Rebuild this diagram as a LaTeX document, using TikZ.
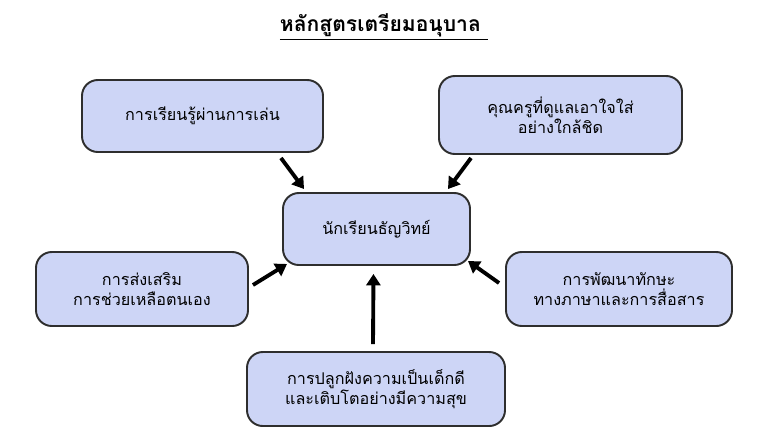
\documentclass[tikz,border=0pt]{standalone}
\usepackage{fontspec}
\usetikzlibrary{arrows.meta,calc}
\newfontfamily\thaifont[Script=Thai]{Loma}
\definecolor{boxfill}{HTML}{CDD5F6}
\definecolor{boxline}{HTML}{2E2E2E}
\tikzset{
  px/.style={x=0.02cm,y=-0.02cm},
  ibox/.style={draw=boxline,line width=1.1pt,fill=boxfill,rounded corners=9pt,
    align=center,font=\thaifont\fontsize{9.2}{11.5}\selectfont,inner sep=0pt},
  arr/.style={line width=2.2pt,-{Triangle[length=6.5pt,width=8pt]}},
}
\begin{document}
\begin{tikzpicture}[px]
\useasboundingbox (0,0) rectangle (768,441);
\node[font=\thaifont\bfseries\fontsize{12}{14}\selectfont] (title) at (384,27)
  {\setlength{\fboxrule}{0pt}\underline{หลักสูตรเตรียมอนุบาล\ }};
\node[ibox,minimum width=241*0.02cm,minimum height=72*0.02cm] (b1) at (202.5,116) {การเรียนรู้ผ่านการเล่น};
\node[ibox,minimum width=243*0.02cm,minimum height=78*0.02cm] (b2) at (560.5,115) {คุณครูที่ดูแลเอาใจใส่\\อย่างใกล้ชิด};
\node[ibox,minimum width=187*0.02cm,minimum height=72*0.02cm] (c) at (376.5,229) {นักเรียนธัญวิทย์};
\node[ibox,minimum width=212*0.02cm,minimum height=74*0.02cm] (bl) at (142,289) {การส่งเสริม\\การช่วยเหลือตนเอง};
\node[ibox,minimum width=226*0.02cm,minimum height=74*0.02cm] (br) at (619,289) {การพัฒนาทักษะ\\ทางภาษาและการสื่อสาร};
\node[ibox,minimum width=258*0.02cm,minimum height=74*0.02cm] (bb) at (376,389) {การปลูกฝังความเป็นเด็กดี\\และเติบโตอย่างมีความสุข};
\draw[arr] ($(b1.south east)+(-43,5)$) -- ($(c.north west)+(22,-3)$);
\draw[arr] ($(b2.south west)+(33,3)$) -- ($(c.north east)+(-23,-3)$);
\draw[arr] ($(bl.east)+(4,-4)$) -- ($(c.south west)+(5,-2)$);
\draw[arr] ($(br.west)+(-6,-6)$) -- ($(c.south east)+(-3,-5)$);
\draw[arr] ($(bb.north)+(-3,-7)$) -- ($(c.south)+(-3,8)$);
\end{tikzpicture}
\end{document}
